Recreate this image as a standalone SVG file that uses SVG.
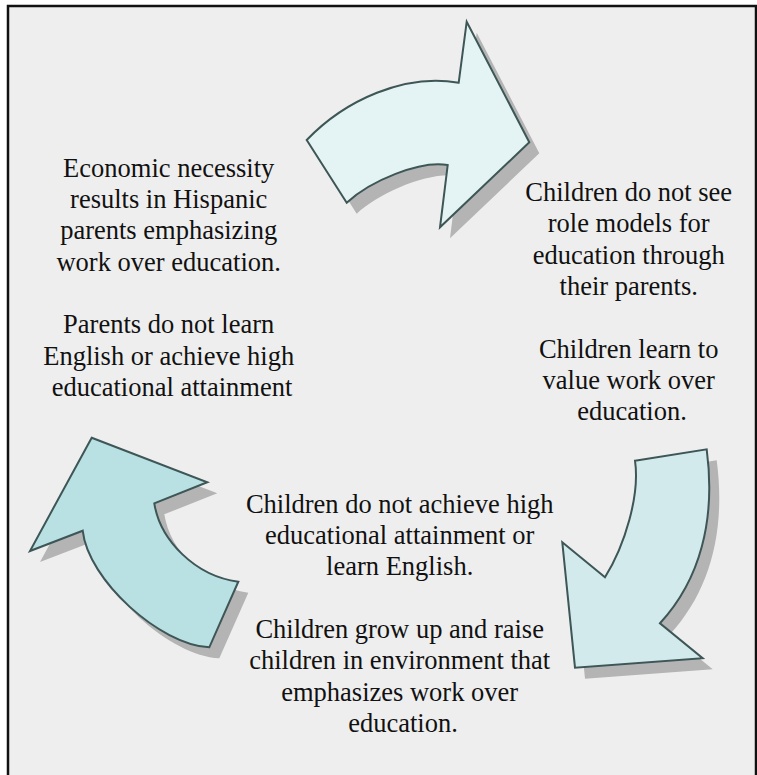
<svg xmlns="http://www.w3.org/2000/svg" width="757" height="775" viewBox="0 0 757 775">
  <defs>
    <style>
      .frame { fill: #eeeeee; stroke: #111111; stroke-width: 2.5; }
      .label { font-family: "Liberation Serif", "Times New Roman", serif; font-size: 26.5px; fill: #111111; text-anchor: middle; }
      .shadow { fill: #b4b4b4; stroke: none; }
      .arrow { stroke: #3e5656; stroke-width: 2; stroke-linejoin: miter; }
      .a-top { fill: #e4f4f4; }
      .a-right { fill: #d2eaec; }
      .a-left { fill: #b9e0e3; }
    </style>
    <path id="arrow-top" d="M306.7,140 L346.7,202.7 C370,181 420,160 447.7,165 L440,227.3 L529.3,142.3 L466.7,21.7 L458.7,82.7 C405,73 345,100 306.7,140 Z"/>
    <path id="arrow-right" d="M635,460.7 L706.7,449.3 C716,520 700,580 660,623.3 L702.7,658.3 L575,667.7 L562.3,542.3 L605,577.3 C625,545 640,495 635,460.7 Z"/>
    <path id="arrow-left" d="M91.7,437.7 L207.3,482.3 L154.3,503.3 C160,540 195,576 238.3,581.7 L209.3,647.3 C160,645 88,580 82.7,530.7 L30,551 Z"/>
  </defs>

  <!-- panel -->
  <rect class="frame" x="8" y="6" width="748" height="790"/>

  <!-- curved cycle arrows, each with a drop shadow -->
  <g id="connectors">
    <use href="#arrow-top" class="shadow" transform="translate(10,11)"/>
    <use href="#arrow-right" class="shadow" transform="translate(10,11)"/>
    <use href="#arrow-left" class="shadow" transform="translate(10,11)"/>
    <use href="#arrow-top" class="arrow a-top"/>
    <use href="#arrow-right" class="arrow a-right"/>
    <use href="#arrow-left" class="arrow a-left"/>
  </g>

  <g id="node-parents">
    <text class="label" x="172" y="176.7">
      <tspan x="172" y="176.7">Economic necessity</tspan>
      <tspan x="172" y="208">results in Hispanic</tspan>
      <tspan x="172" y="239.3">parents emphasizing</tspan>
      <tspan x="172" y="270.6">work over education.</tspan>
      <tspan x="172" y="333.2">Parents do not learn</tspan>
      <tspan x="172" y="364.5">English or achieve high</tspan>
      <tspan x="172" y="395.8">educational attainment</tspan>
    </text>
  </g>

  <g id="node-children-values">
    <text class="label" x="632" y="201">
      <tspan x="632" y="201">Children do not see</tspan>
      <tspan x="632" y="232.3">role models for</tspan>
      <tspan x="632" y="263.6">education through</tspan>
      <tspan x="632" y="294.9">their parents.</tspan>
      <tspan x="632" y="357.5">Children learn to</tspan>
      <tspan x="632" y="388.8">value work over</tspan>
      <tspan x="632" y="420.1">education.</tspan>
    </text>
  </g>

  <g id="node-children-outcome">
    <text class="label" x="403" y="512.7">
      <tspan x="403" y="512.7">Children do not achieve high</tspan>
      <tspan x="403" y="544">educational attainment or</tspan>
      <tspan x="403" y="575.3">learn English.</tspan>
      <tspan x="403" y="637.9">Children grow up and raise</tspan>
      <tspan x="403" y="669.2">children in environment that</tspan>
      <tspan x="403" y="700.5">emphasizes work over</tspan>
      <tspan x="403" y="731.8">education.</tspan>
    </text>
  </g>
</svg>
